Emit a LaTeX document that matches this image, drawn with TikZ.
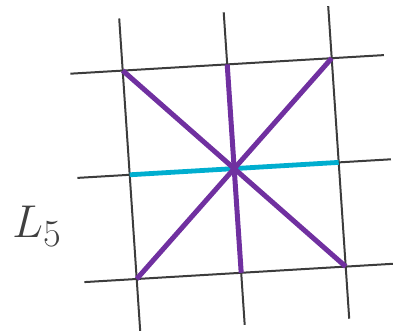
\documentclass[tikz,border=0pt]{standalone}
\usepackage{xcolor}
\usepackage{tikz}
\definecolor{gridc}{HTML}{3C3C3C}
\definecolor{purplec}{HTML}{7030A0}
\definecolor{cyanc}{HTML}{00AECF}
\definecolor{labelc}{HTML}{404040}

\begin{document}
\begin{tikzpicture}[x=1pt, y=1pt]
  \useasboundingbox (0,0) rectangle (393,331);
  \begin{scope}[shift={(136.7pt,52pt)}, x={(104.5pt,6.2pt)}, y={(-7pt,104.2pt)}]
    \foreach \i in {0,1,2} {
      \draw[gridc, line width=2pt] (\i,-0.5) -- (\i,2.5);
      \draw[gridc, line width=2pt] (-0.5,\i) -- (2.5,\i);
      \foreach \j in {0,1,2}
        \coordinate (p\i\j) at (\i,\j);
    }
    \draw[cyanc, line width=4.8pt] (p01) -- (p21);
    \draw[purplec, line width=5pt] (p00) -- (p22);
    \draw[purplec, line width=5pt] (p02) -- (p20);
    \draw[purplec, line width=5pt] (p10) -- (p12);
  \end{scope}
  \node[labelc, anchor=base west, inner sep=0pt, font=\Huge, scale=1.85, transform shape] (lab) at (12,93) {$L_5$};
\end{tikzpicture}
\end{document}
